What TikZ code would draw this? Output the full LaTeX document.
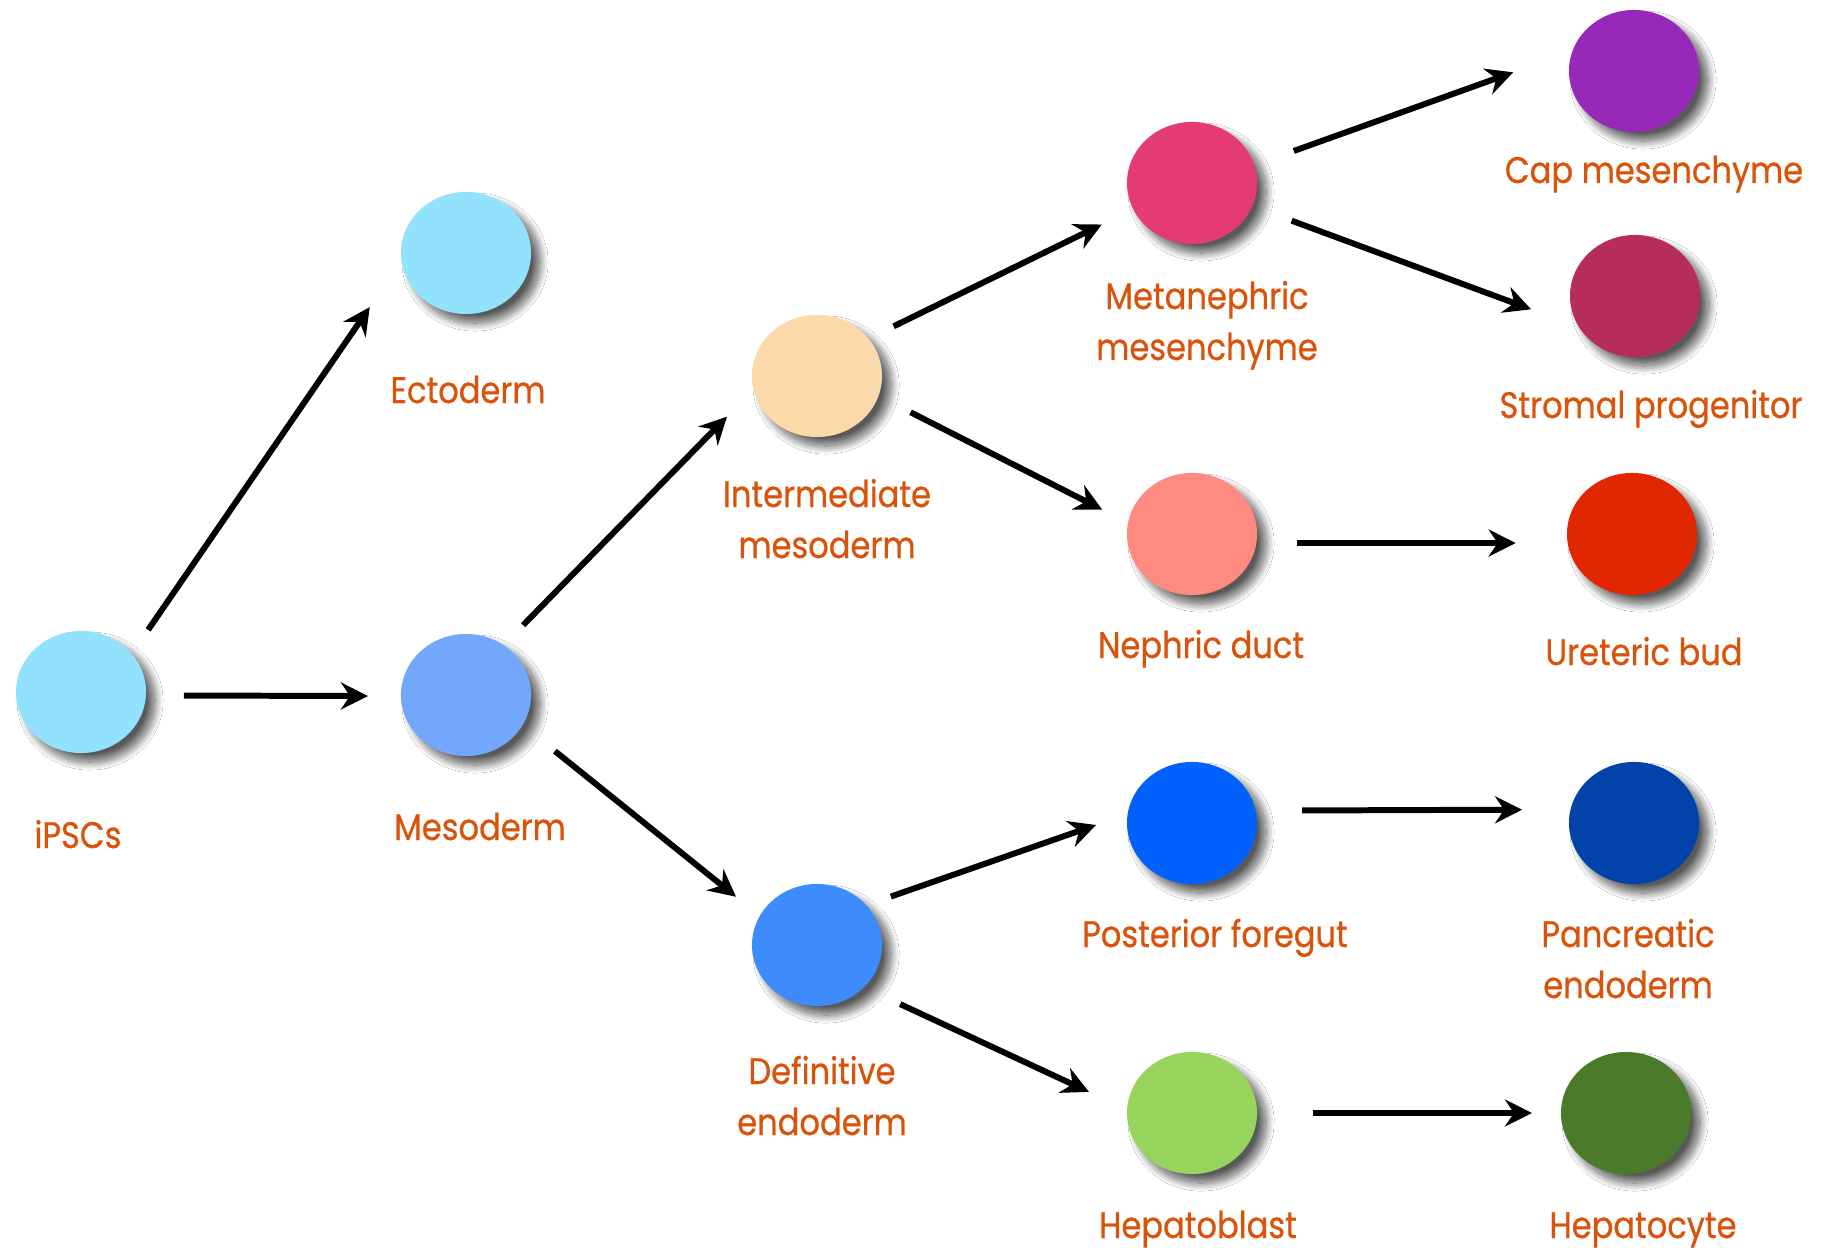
\documentclass[tikz,border=0pt]{standalone}
\usepackage{fontspec}
\setmainfont[FakeStretch=0.87,FakeBold=0.6]{Poppins}
\usetikzlibrary{arrows.meta,shapes.geometric,shadows.blur}

\definecolor{labelorange}{HTML}{D9540A}
\definecolor{cIPS}{HTML}{92E2FD}
\definecolor{cEcto}{HTML}{92E2FD}
\definecolor{cMeso}{HTML}{72A7FB}
\definecolor{cInter}{HTML}{FCD9A8}
\definecolor{cDefEnd}{HTML}{3E8BFC}
\definecolor{cMetan}{HTML}{E43B77}
\definecolor{cNeph}{HTML}{FE8A80}
\definecolor{cPost}{HTML}{0161FD}
\definecolor{cHepb}{HTML}{97D45E}
\definecolor{cCap}{HTML}{9629B8}
\definecolor{cStrom}{HTML}{B62C5C}
\definecolor{cUre}{HTML}{E12700}
\definecolor{cPanc}{HTML}{0143AA}
\definecolor{cHepc}{HTML}{4A7A2A}

\tikzset{
  cell/.style={ellipse, inner sep=0pt, outer sep=0pt,
    minimum width=1.3cm, minimum height=1.22cm, fill=#1,
    blur shadow={shadow xshift=0.09cm, shadow yshift=-0.09cm,
      shadow blur radius=0.08cm, shadow blur steps=20, shadow opacity=65}},
  % anchor=base sits on the baseline of the last line
  celllabel/.style={text=labelorange, font=\fontsize{10.5}{14.5}\selectfont,
    anchor=base, align=center, inner sep=0pt},
  arr/.style={line width=1.7pt,
    -{Stealth[length=0.27cm, width=0.27cm, inset=0.09cm]}}
}

\begin{document}
\begin{tikzpicture}[x=0.01cm, y=-0.01cm]
\useasboundingbox[fill=white] (0,0) rectangle (1825,1249);

% cells
\node[cell=cIPS]    (ips)    at (81,692)   {};
\node[cell=cEcto]   (ecto)   at (466,253)  {};
\node[cell=cMeso]   (meso)   at (466,695)  {};
\node[cell=cInter]  (inter)  at (817,376)  {};
\node[cell=cDefEnd] (defend) at (817,945)  {};
\node[cell=cMetan]  (metan)  at (1192,183) {};
\node[cell=cNeph]   (neph)   at (1192,534) {};
\node[cell=cPost]   (post)   at (1192,823) {};
\node[cell=cHepb]   (hepb)   at (1192,1113){};
\node[cell=cCap]    (cap)    at (1634,71)  {};
\node[cell=cStrom]  (strom)  at (1635,296) {};
\node[cell=cUre]    (ure)    at (1632,534) {};
\node[cell=cPanc]   (panc)   at (1634,823) {};
\node[cell=cHepc]   (hepc)   at (1626,1113){};

% labels
\node[celllabel] (l-ips)    at (78,848)    {iPSCs};
\node[celllabel] (l-ecto)   at (468,403)   {Ectoderm};
\node[celllabel] (l-meso)   at (480,840)   {Mesoderm};
\node[celllabel] (l-inter)  at (827,558)   {Intermediate\\mesoderm};
\node[celllabel] (l-defend) at (822,1135)  {Definitive\\endoderm};
\node[celllabel] (l-metan)  at (1207,360)  {Metanephric\\mesenchyme};
\node[celllabel] (l-neph)   at (1201,658)  {Nephric duct};
\node[celllabel] (l-post)   at (1215,947)  {Posterior foregut};
\node[celllabel] (l-hepb)   at (1198,1238) {Hepatoblast};
\node[celllabel] (l-cap)    at (1654,183)  {Cap mesenchyme};
\node[celllabel] (l-strom)  at (1651,418)  {Stromal progenitor};
\node[celllabel] (l-ure)    at (1644,665)  {Ureteric bud};
\node[celllabel] (l-panc)   at (1628,998)  {Pancreatic\\endoderm};
\node[celllabel] (l-hepc)   at (1643,1238) {Hepatocyte};

% lineage arrows
\draw[arr, shorten <=0.29cm, shorten >=0.56cm]  (ips.37)     -- (ecto.187);
\draw[arr, shorten <=0.38cm, shorten >=0.33cm]  (ips.-3.5)   -- (meso.181);
\draw[arr, shorten <=0.28cm, shorten >=0.38cm]  (meso.53.2)  -- (inter.192.3);
\draw[arr, shorten <=0.415cm, shorten >=0.305cm](meso.332)   -- (defend.153.3);
\draw[arr, shorten <=0.28cm, shorten >=0.35cm]  (inter.36.7) -- (metan.204.6);
\draw[arr, shorten <=0.36cm, shorten >=0.29cm]  (inter.342.5)-- (neph.170.5);
\draw[arr, shorten <=0.26cm, shorten >=0.335cm] (defend.39.9)-- (post.172.1);
\draw[arr, shorten <=0.40cm, shorten >=0.42cm]  (defend.318) -- (hepb.177.1);
\draw[arr, shorten <=0.42cm, shorten >=0.63cm]  (metan.16)   -- (cap.162.8);
\draw[arr, shorten <=0.42cm, shorten >=0.51cm]  (metan.339.9)-- (strom.209.9);
\draw[arr, shorten <=0.41cm, shorten >=0.52cm]  (neph.352)   -- (ure.188);
\draw[arr, shorten <=0.465cm, shorten >=0.485cm](post.11.6)  -- (panc.168.4);
\draw[arr, shorten <=0.56cm, shorten >=0.29cm]  (hepb.0)     -- (hepc.180);
\end{tikzpicture}
\end{document}
